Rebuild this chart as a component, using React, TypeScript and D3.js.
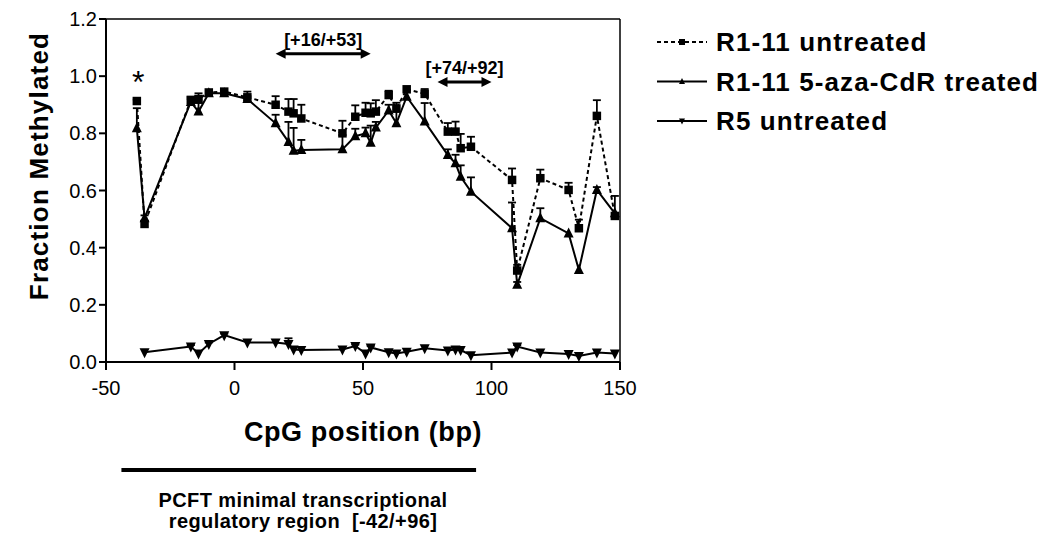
import React from 'react';
import * as d3 from 'd3';

const positions = [-38, -35, -17, -14, -10, -4, 5, 16, 21, 23, 26, 42, 47, 51, 53, 55, 60, 63, 67, 74, 83, 86, 88, 92, 108, 110, 119, 130, 134, 141, 148];
const untreated = [0.913, 0.483, 0.917, 0.92, 0.943, 0.946, 0.926, 0.90, 0.876, 0.87, 0.852, 0.80, 0.858, 0.872, 0.87, 0.876, 0.934, 0.887, 0.954, 0.938, 0.806, 0.806, 0.748, 0.753, 0.637, 0.32, 0.643, 0.602, 0.468, 0.861, 0.511];
const untreatedErr = [0.005, 0.01, 0.01, 0.02, 0, 0, 0.02, 0.03, 0.044, 0.05, 0.048, 0.044, 0.04, 0.035, 0.035, 0.04, 0.015, 0.02, 0, 0.017, 0.03, 0.035, 0.05, 0.035, 0.04, 0.02, 0.03, 0.025, 0.03, 0.055, 0.07];
const treated = [0.818, 0.503, 0.91, 0.876, 0.94, 0.94, 0.92, 0.835, 0.77, 0.739, 0.742, 0.744, 0.79, 0.80, 0.767, 0.82, 0.88, 0.835, 0.928, 0.841, 0.724, 0.695, 0.648, 0.596, 0.468, 0.27, 0.503, 0.45, 0.322, 0.602, 0.52];
const treatedErr = [0.07, 0.01, 0.01, 0.03, 0, 0, 0.01, 0.03, 0.07, 0.08, 0.035, 0.05, 0.026, 0.02, 0.06, 0.02, 0.02, 0.04, 0, 0.065, 0.02, 0.03, 0.04, 0.05, 0.09, 0.01, 0.035, 0, 0, 0.01, 0];
const r5: (number | null)[] = [null, 0.034, 0.054, 0.03, 0.063, 0.094, 0.068, 0.068, 0.063, 0.044, 0.042, 0.044, 0.056, 0.03, 0.051, null, 0.034, 0.03, 0.036, 0.048, 0.04, 0.044, 0.042, 0.024, 0.033, 0.054, 0.033, 0.028, 0.021, 0.033, 0.03];
const r5Err = [0, 0, 0.005, 0, 0.005, 0.005, 0, 0, 0.02, 0, 0, 0, 0.005, 0, 0.005, 0, 0, 0, 0, 0, 0, 0, 0, 0, 0, 0.005, 0, 0, 0, 0, 0];

const xTicks = [-50, 0, 50, 100, 150];
const yTicks = [0, 0.2, 0.4, 0.6, 0.8, 1.0, 1.2];
const legendLabels = ['R1-11 untreated', 'R1-11 5-aza-CdR treated', 'R5 untreated'];
const brackets = [
  { label: '[+16/+53]', from: 16, to: 53, level: 1.078 },
  { label: '[+74/+92]', from: 79, to: 100, level: 0.98 },
];
const regionSpan = [-44, 94];
const regionLines = ['PCFT minimal transcriptional', 'regulatory region  [-42/+96]'];

const FONT = '"Liberation Sans", Arial, sans-serif';

export default function App() {
  const left = 106, right = 620, top = 19, bottom = 362;
  const x = d3.scaleLinear().domain([-50, 150]).range([left, right]);
  const y = d3.scaleLinear().domain([0, 1.2]).range([bottom, top]);

  const mk = (vals: (number | null)[]) => {
    const pts = positions
      .map((p, i) => [p, vals[i]] as [number, number | null])
      .filter((d) => d[1] != null) as [number, number][];
    return d3.line<[number, number]>().x((d) => x(d[0])).y((d) => y(d[1]))(pts) || '';
  };

  const sq = (cx: number, cy: number, s = 8.5) => (
    <rect x={cx - s / 2} y={cy - s / 2} width={s} height={s} fill="#000" />
  );
  const triUp = (cx: number, cy: number, s = 10) => (
    <path d={`M${cx},${cy - s * 0.6}L${cx + s / 2},${cy + s * 0.4}L${cx - s / 2},${cy + s * 0.4}Z`} fill="#000" />
  );
  const triDown = (cx: number, cy: number, s = 10) => (
    <path d={`M${cx},${cy + s * 0.6}L${cx + s / 2},${cy - s * 0.4}L${cx - s / 2},${cy - s * 0.4}Z`} fill="#000" />
  );

  const errBars = (vals: (number | null)[], errs: number[], key: string) =>
    positions.map((p, i) => {
      const v = vals[i];
      if (v == null || !errs[i]) return null;
      const px = x(p), y0 = y(v), y1 = y(v + errs[i]);
      return (
        <g key={key + i} stroke="#000" strokeWidth={1.8}>
          <line x1={px} x2={px} y1={y0} y2={y1} />
          <line x1={px - 4} x2={px + 4} y1={y1} y2={y1} />
        </g>
      );
    });

  const arrowHead = (xTip: number, yy: number, dir: number) => (
    <path d={`M${xTip},${yy}L${xTip - dir * 10},${yy - 5}L${xTip - dir * 10},${yy + 5}Z`} fill="#000" />
  );

  return (
    <svg width={1050} height={539} style={{ position: 'absolute', left: 0, top: 0, background: '#fff' }} fontFamily={FONT}>
      <rect width={1050} height={539} fill="#fff" />
      {/* frame */}
      <line x1={left} x2={right} y1={top} y2={top} stroke="#000" strokeWidth={1.5} />
      <line x1={right} x2={right} y1={top} y2={bottom} stroke="#000" strokeWidth={1.5} />
      <line x1={left} x2={left} y1={top} y2={bottom + 1} stroke="#000" strokeWidth={2} />
      <line x1={left - 1} x2={right} y1={bottom} y2={bottom} stroke="#000" strokeWidth={2} />
      {/* y ticks */}
      {yTicks.map((t) => (
        <g key={'y' + t}>
          <line x1={left - 7} x2={left} y1={y(t)} y2={y(t)} stroke="#000" strokeWidth={2} />
          <text x={left - 9} y={y(t)} dy="0.35em" textAnchor="end" fontSize={20}>{d3.format('.1f')(t)}</text>
        </g>
      ))}
      {/* x ticks */}
      {xTicks.map((t) => (
        <g key={'x' + t}>
          <line x1={x(t)} x2={x(t)} y1={bottom} y2={bottom + 8} stroke="#000" strokeWidth={2} />
          <text x={x(t)} y={395} textAnchor="middle" fontSize={20}>{t}</text>
        </g>
      ))}
      <text transform={`translate(48,166) rotate(-90)`} textAnchor="middle" fontSize={26} fontWeight="bold" letterSpacing={1.2}>Fraction Methylated</text>
      <text x={(left + right) / 2} y={441} textAnchor="middle" fontSize={27} fontWeight="bold" letterSpacing={0.6}>CpG position (bp)</text>

      {/* R5 */}
      <path d={mk(r5)} fill="none" stroke="#000" strokeWidth={2} />
      {errBars(r5, r5Err, 'r5e')}
      {positions.map((p, i) => (r5[i] == null ? null : <g key={'r5m' + i}>{triDown(x(p), y(r5[i] as number))}</g>))}

      {/* treated */}
      <path d={mk(treated)} fill="none" stroke="#000" strokeWidth={2} />
      {errBars(treated, treatedErr, 'te')}
      {positions.map((p, i) => <g key={'tm' + i}>{triUp(x(p), y(treated[i]))}</g>)}

      {/* untreated */}
      <path d={mk(untreated)} fill="none" stroke="#000" strokeWidth={2} strokeDasharray="4,3" />
      {errBars(untreated, untreatedErr, 'ue')}
      {positions.map((p, i) => <g key={'um' + i}>{sq(x(p), y(untreated[i]))}</g>)}

      {/* asterisk */}
      <text x={x(-37.5)} y={y(0.94)} textAnchor="middle" fontSize={32}>*</text>

      {/* brackets */}
      {brackets.map((b) => {
        const yy = y(b.level);
        const x1 = x(b.from), x2 = x(b.to);
        return (
          <g key={b.label}>
            <line x1={x1 + 6} x2={x2 - 6} y1={yy} y2={yy} stroke="#000" strokeWidth={3} />
            {arrowHead(x1, yy, -1)}
            {arrowHead(x2, yy, 1)}
            <text x={(x1 + x2) / 2} y={yy - 8} textAnchor="middle" fontSize={18} fontWeight="bold">{b.label}</text>
          </g>
        );
      })}

      {/* legend */}
      {legendLabels.map((l, i) => {
        const ly = 42 + i * 39.5;
        return (
          <g key={l}>
            <line x1={657} x2={707} y1={ly} y2={ly} stroke="#000" strokeWidth={1.8} strokeDasharray={i === 0 ? '4,3' : undefined} />
            {i === 0 ? sq(682, ly, 6) : i === 1 ? triUp(682, ly, 6) : triDown(682, ly, 6)}
            <text x={716} y={ly + 9} fontSize={26} fontWeight="bold" letterSpacing={1.1}>{l}</text>
          </g>
        );
      })}

      {/* region bar */}
      <line x1={x(regionSpan[0])} x2={x(regionSpan[1])} y1={470} y2={470} stroke="#000" strokeWidth={4} />
      {regionLines.map((t, i) => (
        <text key={t} x={303} y={507 + i * 21} textAnchor="middle" fontSize={20} fontWeight="bold" letterSpacing={0.4} style={{ whiteSpace: 'pre' }}>{t}</text>
      ))}
    </svg>
  );
}
